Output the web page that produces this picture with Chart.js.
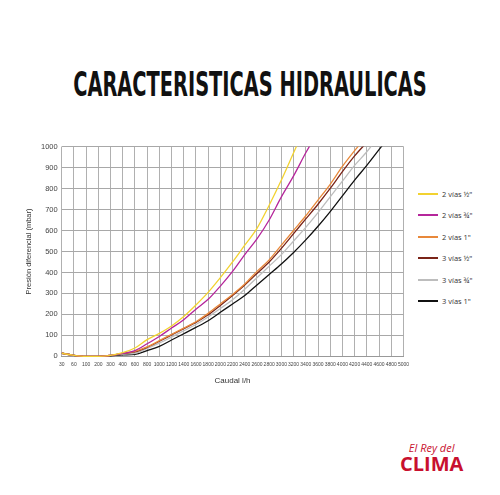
<!DOCTYPE html>
<html><head><meta charset="utf-8">
<script src="https://cdn.jsdelivr.net/npm/chart.js@4"></script>
<style>
body{margin:0;background:#fff;font-family:"Open Sans",sans-serif;}
#wrap{position:relative;width:500px;height:495px;}
h1{position:absolute;top:64px;left:250px;margin:0;white-space:nowrap;font:bold 34px "DejaVu Sans",sans-serif;color:#111;transform:translateX(-50%) scaleX(0.57);}
#box{position:absolute;left:20px;top:138px;width:394px;height:252px;}
#legend{position:absolute;left:418px;top:183px;font-size:7.5px;color:#333;}
#legend div{height:21.5px;display:flex;align-items:center;}
#legend span{display:inline-block;width:20px;height:2px;margin-right:4px;}
#logo{position:absolute;left:400px;top:440px;color:#c8102e;font-weight:bold;text-align:center;}
</style></head><body>
<div id="wrap">
<h1>CARACTERISTICAS HIDRAULICAS</h1>
<div id="box"><canvas id="c"></canvas></div>
<div id="legend"></div>
<div id="logo"><div style="font-size:11px;font-style:italic;font-weight:normal">El Rey del</div><div style="font-size:20px;line-height:18px">CLIMA</div></div>
</div>
<script>
const caudal = ['30','60','100','200','300','400','600','800','1000','1200','1400','1600','1800','2000','2200','2400','2600','2800','3000','3200','3400','3600','3800','4000','4200','4400','4600','4800','5000'];
const v2_12 = [15,5,0,0,5,18,40,80,110,145,190,245,305,375,450,530,610,720,840,970,1100];
const v2_34 = [15,5,0,0,5,14,28,60,95,135,175,225,272,335,405,485,560,650,760,860,970,1070];
const v2_1 = [15,5,0,0,5,14,24,45,75,105,135,165,205,250,295,345,405,460,530,600,670,745,820,905,980,1050];
const v3_12 = [15,5,0,0,5,14,21,43,72,102,132,162,198,243,290,340,395,450,515,585,655,725,800,880,955,1020];
const v3_34 = [15,5,0,0,5,11,15,38,63,92,122,152,188,228,270,320,375,430,485,550,615,685,760,835,910,975,1050];
const v3_1 = [15,5,0,0,3,7,10,28,48,78,108,138,170,210,250,290,340,390,440,495,555,620,690,765,840,910,985,1060];
const names = ['2 vías ½"','2 vías ¾"','2 vías 1"','3 vías ½"','3 vías ¾"','3 vías 1"'];
const colors = ['#f2d230','#b5269b','#e8883a','#7a2418','#bdbdbd','#111111'];
const series = [v2_12,v2_34,v2_1,v3_12,v3_34,v3_1];

document.getElementById('legend').innerHTML = names.map((n,i)=>`<div><span style="background:${colors[i]}"></span>${n}</div>`).join('');

new Chart(document.getElementById('c'), {
  type: 'line',
  data: {
    labels: caudal,
    datasets: series.map((d,i)=>({label:names[i],data:d,borderColor:colors[i],borderWidth:1.3,pointRadius:0,cubicInterpolationMode:'monotone',fill:false,clip:{left:0,right:0,top:0,bottom:3}}))
  },
  options: {
    responsive:true, maintainAspectRatio:false, animation:false,
    plugins:{legend:{display:false},tooltip:{enabled:false}},
    scales:{
      x:{offset:false,grid:{color:'#b0b0b0',drawTicks:false},border:{color:'#999'},
        ticks:{color:'#444',font:{size:5},maxRotation:0,autoSkip:false,padding:5},
        title:{display:true,text:'Caudal l/h',color:'#333',font:{size:8}}},
      y:{min:0,max:1000,grid:{color:c=>c.tick&&c.tick.value%100?'#c8c8c8':'#a8a8a8',drawTicks:false},
        border:{display:false,dash:c=>c.tick&&c.tick.value%100?[2,2]:[]},
        ticks:{stepSize:50,color:'#444',font:{size:7.5},padding:4,callback:v=>v%100?'':v},
        title:{display:true,text:'Presión diferencial (mbar)',color:'#333',font:{size:7.5}}}
    }
  }
});
</script>
</body></html>
